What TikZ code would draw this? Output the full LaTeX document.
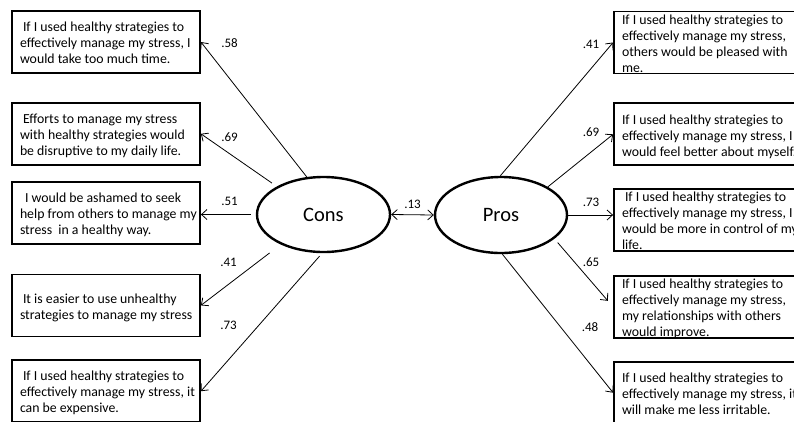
\documentclass[tikz,border=0pt]{standalone}
\usepackage{fontspec}
\setmainfont{Carlito}
\usepackage{tikz}
\usetikzlibrary{shapes,arrows.meta,positioning}

\newcommand{\itemtext}[1]{\parbox[c][46pt][c]{172pt}{\vspace*{5pt}\begin{tabular}{@{}l@{}}#1\end{tabular}}}

\begin{document}
\begin{tikzpicture}[x=1pt,y=-1pt,
		item/.style={draw,line width=1.8pt,minimum width=188pt,minimum height=62pt,inner sep=0pt,font=\fontsize{13.8}{16}\selectfont},
		factor/.style={ellipse,draw,line width=2.4pt,minimum width=133pt,minimum height=75pt,inner sep=0pt,font=\fontsize{20.5}{24}\selectfont},
		load/.style={inner sep=0pt,font=\fontsize{13}{15}\selectfont},
		>={Straight Barb[length=5.5pt,width=10pt]}]
		\useasboundingbox (0,0) rectangle (794,421);
		\begin{scope}
			% the two factors
			\node(cons) [factor] at (323.5,214.5) {Cons};
			\node(pros) [factor,minimum width=132pt,minimum height=76pt] at (501,215) {Pros};
			\draw[<->,line width=0.8pt] (cons.east) -- (pros.west)
				node [load,midway,above=6pt] (k) {.13};

			% cons items
			\node(c1) [item] at (106,42) {\itemtext{\hspace*{3pt}If I used healthy strategies to\\effectively manage my stress, I\\would take too much time.}};
			\node(c2) [item,below=28pt of c1] {\itemtext{\hspace*{3pt}Efforts to manage my stress\\with healthy strategies would\\be disruptive to my daily life.}};
			\node(c3) [item,below=15pt of c2] {\itemtext{\hspace*{5pt}I would be ashamed to seek\\help from others to manage my\\stress\ \ in a healthy way.}};
			\node(c4) [item,below=29pt of c3] {\itemtext{\hspace*{3pt}It is easier to use unhealthy\\strategies to manage my stress}};
			\node(c5) [item,below=22pt of c4] {\itemtext{\hspace*{3pt}If I used healthy strategies to\\effectively manage my stress, it\\can be expensive.}};

			% pros items
			\node(r1) [item] at (708,42.5) {\itemtext{If I used healthy strategies to\\effectively manage my stress,\\others would be pleased with\\me.}};
			\node(r2) [item,below=28pt of r1] {\itemtext{If I used healthy strategies to\\effectively manage my stress, I\\would feel better about myself.}};
			\node(r3) [item,below=22pt of r2] {\itemtext{\hspace*{3pt}If I used healthy strategies to\\effectively manage my stress, I\\would be more in control of my\\life.}};
			\node(r4) [item,below=23pt of r3] {\itemtext{If I used healthy strategies to\\effectively manage my stress,\\my relationships with others\\would improve.}};
			\node(r5) [item,below=22pt of r4] {\itemtext{If I used healthy strategies to\\effectively manage my stress, it\\will make me less irritable.}};

			\path[->,line width=0.8pt]
				(cons.114) edge (c1.east)
				(cons.149) edge [shorten <=6pt] (c2.east)
				(cons.west) edge [shorten <=5pt] (cons.west -| c3.east)
				(cons.215) edge [shorten <=14pt] (c4.east)
				(cons.268) edge [shorten <=4pt] (c5.east)
				(pros.91) edge (r1.west)
				(pros.31) edge (r2.west)
				(pros.east) edge (pros.east -| r3.west)
				(pros.336) edge [shorten <=5pt,shorten >=8pt] (r4.west)
				(pros.272) edge (r5.west);

			% loadings
			\node(w1) [load] at (229.5,43) {.58};
			\node(w2) [load] at (229.5,137) {.69};
			\node(w3) [load] at (229.5,201) {.51};
			\node(w4) [load] at (228.5,262) {.41};
			\node(w5) [load] at (228.5,325) {.73};
			\node(v1) [load] at (591,44) {.41};
			\node(v2) [load] at (591,132) {.69};
			\node(v3) [load] at (591,202) {.73};
			\node(v4) [load] at (591,262) {.65};
			\node(v5) [load] at (590,327) {.48};
		\end{scope}
	\end{tikzpicture}
\end{document}
